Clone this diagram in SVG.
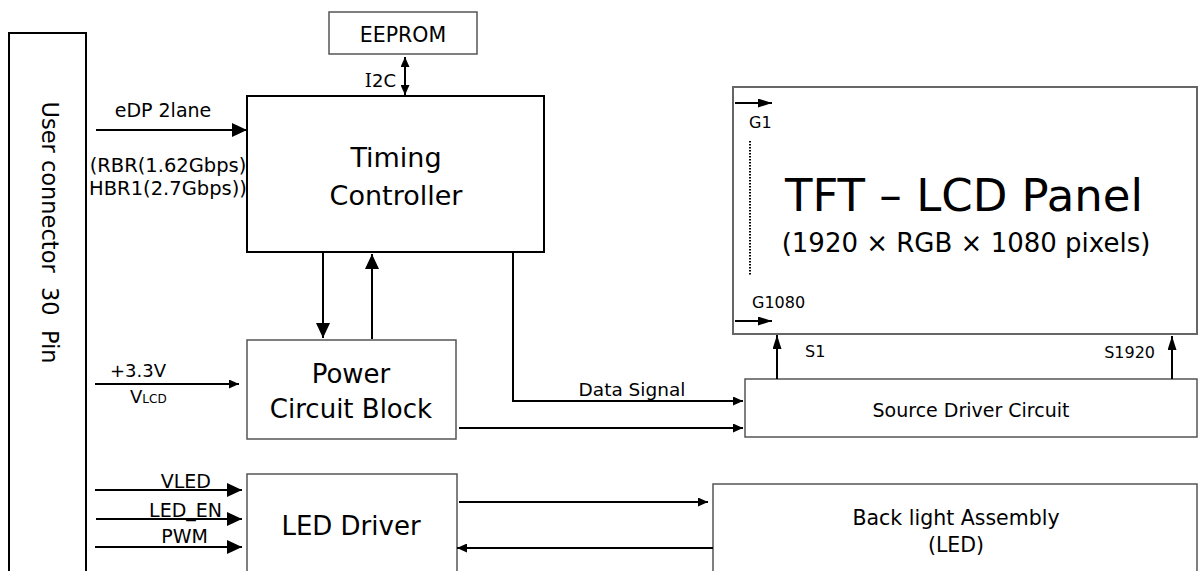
<svg xmlns="http://www.w3.org/2000/svg" width="1199" height="571" viewBox="0 0 1199 571">
<defs>
<marker id="big" viewBox="0 0 15 14" refX="15" refY="7" markerWidth="15" markerHeight="14" markerUnits="userSpaceOnUse" orient="auto">
<path d="M0,0 L15,7 L0,14 z" fill="#000"/>
</marker>
<marker id="sml" viewBox="0 0 10 9" refX="10" refY="4.5" markerWidth="10" markerHeight="9" markerUnits="userSpaceOnUse" orient="auto">
<path d="M0,0 L10,4.5 L0,9 z" fill="#000"/>
</marker>
<marker id="nar" viewBox="0 0 14 9" refX="14" refY="4.5" markerWidth="14" markerHeight="9" markerUnits="userSpaceOnUse" orient="auto">
<path d="M0,0 L14,4.5 L0,9 z" fill="#000"/>
</marker>
<marker id="dbl" viewBox="0 0 10 9" refX="10" refY="4.5" markerWidth="10" markerHeight="9" markerUnits="userSpaceOnUse" orient="auto-start-reverse">
<path d="M0,0 L10,4.5 L0,9 z" fill="#000"/>
</marker>
</defs>
<style>
text{font-family:"DejaVu Sans",Verdana,sans-serif;fill:#000}
.bk{fill:#fff;stroke:#000;stroke-width:2}
.gr{fill:#fff;stroke:#555;stroke-width:1.5}
.ln{fill:none;stroke:#000;stroke-width:2}
.ab{fill:none;stroke:#000;stroke-width:2;marker-end:url(#big)}
.as{fill:none;stroke:#000;stroke-width:2;marker-end:url(#sml)}
.an{fill:none;stroke:#000;stroke-width:2;marker-end:url(#nar)}
.big{font-size:26px}
.mid{font-size:19px}
.sm{font-size:16px}
</style>
<rect width="1199" height="571" fill="#fff"/>

<g id="user-connector">
<rect class="bk" x="9" y="33" width="77" height="560"/>
<text transform="translate(42,232.5) rotate(90)" text-anchor="middle" xml:space="preserve" style="font-size:22.5px">User connector  30  Pin</text>
</g>

<g id="eeprom">
<rect class="gr" x="329" y="12" width="148" height="42"/>
<text x="403" y="42" text-anchor="middle" style="font-size:20.5px">EEPROM</text>
</g>

<g id="timing-controller">
<rect class="bk" x="247" y="96" width="297" height="156"/>
<text x="396" y="167" text-anchor="middle" style="font-size:27px">Timing</text>
<text x="396" y="205" text-anchor="middle" style="font-size:27px">Controller</text>
</g>

<g id="power-circuit">
<rect class="gr" x="247" y="340" width="209" height="99"/>
<text class="big" x="351" y="383" text-anchor="middle">Power</text>
<text class="big" x="351" y="418" text-anchor="middle">Circuit Block</text>
</g>

<g id="led-driver">
<rect class="gr" x="247" y="474" width="210" height="120"/>
<text class="big" x="351" y="535" text-anchor="middle">LED Driver</text>
</g>

<g id="tft-panel">
<rect class="gr" x="733" y="87" width="464" height="247" style="stroke-width:2;stroke:#666"/>
<text x="964" y="211" text-anchor="middle" style="font-size:45px">TFT – LCD Panel</text>
<text x="966" y="252" text-anchor="middle" style="font-size:26px">(1920 × RGB × 1080 pixels)</text>
<text class="sm" x="749" y="128">G1</text>
<text class="sm" x="752" y="308">G1080</text>
<line x1="750" y1="141" x2="750" y2="275" stroke="#000" stroke-width="2" stroke-dasharray="1.5,1.5"/>
</g>

<g id="source-driver">
<rect class="gr" x="745" y="379" width="452" height="58"/>
<text class="mid" x="971" y="417" text-anchor="middle">Source Driver Circuit</text>
</g>

<g id="backlight">
<rect class="gr" x="713" y="484" width="484" height="110"/>
<text x="956" y="525" text-anchor="middle" style="font-size:20.5px">Back light Assembly</text>
<text x="956" y="552" text-anchor="middle" style="font-size:20.5px">(LED)</text>
</g>

<g id="connectors">
<line class="ln" x1="405" y1="57" x2="405" y2="95" style="marker-start:url(#dbl);marker-end:url(#dbl)"/>
<line class="ab" x1="96" y1="130" x2="247" y2="130"/>
<line class="ab" x1="323" y1="253" x2="323" y2="338"/>
<line class="ab" x1="372" y1="339" x2="372" y2="254"/>
<line class="as" x1="95" y1="384" x2="239" y2="384"/>
<polyline class="as" points="513,252 513,401 743,401"/>
<line class="as" x1="459" y1="428" x2="743" y2="428"/>
<line class="ab" x1="95" y1="490" x2="242" y2="490"/>
<line class="ab" x1="96" y1="519" x2="242" y2="519"/>
<line class="ab" x1="95" y1="547" x2="242" y2="547"/>
<line class="as" x1="459" y1="502" x2="708" y2="502"/>
<line class="as" x1="713" y1="548" x2="457" y2="548"/>
<line class="an" x1="777" y1="379" x2="777" y2="335"/>
<line class="an" x1="1172" y1="379" x2="1172" y2="336"/>
<line class="an" x1="735" y1="103" x2="772" y2="103"/>
<line class="an" x1="735" y1="321" x2="772" y2="321"/>
</g>

<g id="labels">
<text class="mid" x="163" y="117" text-anchor="middle">eDP 2lane</text>
<text x="168" y="172" text-anchor="middle" style="font-size:19.5px">(RBR(1.62Gbps)</text>
<text x="168" y="195" text-anchor="middle" style="font-size:19.5px">HBR1(2.7Gbps))</text>
<text x="396" y="87" text-anchor="end" style="font-size:18px"><tspan style="font-family:'DejaVu Serif',serif">I</tspan>2C</text>
<text x="110" y="377" style="font-size:18px">+3.3V</text>
<text x="130" y="403" style="font-size:18px">V<tspan style="font-size:12px">LCD</tspan></text>
<text x="632" y="396" text-anchor="middle" style="font-size:18.5px">Data Signal</text>
<text class="sm" x="805" y="357">S1</text>
<text class="sm" x="1155" y="358" text-anchor="end">S1920</text>
<text class="mid" x="211" y="488" text-anchor="end">VLED</text>
<text class="mid" x="222" y="517" text-anchor="end">LED_EN</text>
<text class="mid" x="208" y="543" text-anchor="end">PWM</text>
</g>
</svg>
